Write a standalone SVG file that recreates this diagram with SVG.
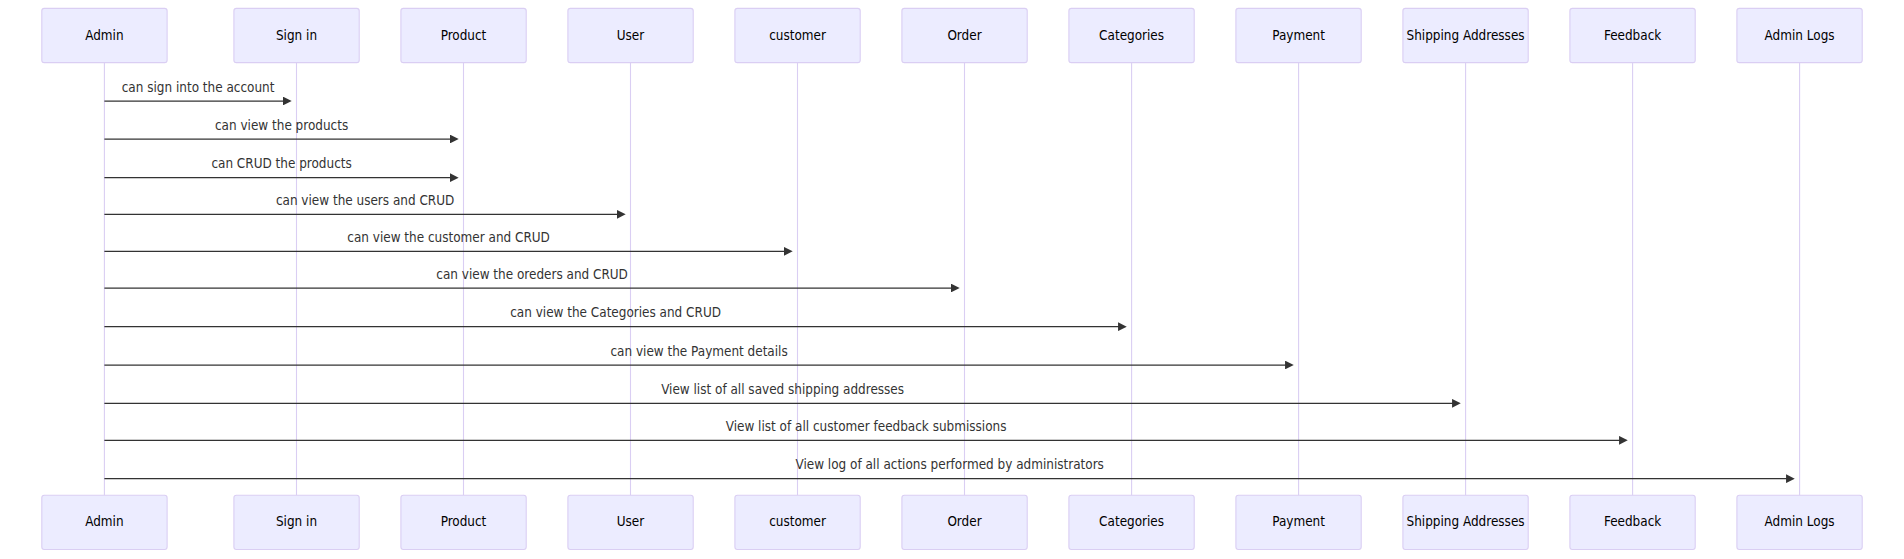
<svg xmlns="http://www.w3.org/2000/svg" width="1904" height="559" viewBox="0 0 1904 559">
<style>
.box{fill:#ECECFF;stroke:#DACEF3;stroke-width:1.1}
.life{stroke:#DACEF3;stroke-width:1.1}
.at{font-family:"DejaVu Sans Condensed","DejaVu Sans",sans-serif;font-stretch:condensed;font-size:13.4px;fill:#000;text-anchor:middle}
.mt{font-family:"DejaVu Sans Condensed","DejaVu Sans",sans-serif;font-stretch:condensed;font-size:13.4px;fill:#333;text-anchor:middle}
.msg{stroke:#333;stroke-width:1.25;fill:none;marker-end:url(#ah)}
</style>
<defs>
<marker id="ah" markerUnits="userSpaceOnUse" viewBox="0 0 10 10" markerWidth="9" markerHeight="8.7" refX="6.7" refY="5" orient="auto">
<path d="M0 0 L10 5 L0 10 z" fill="#333"/>
</marker>
</defs>
<rect width="1904" height="559" fill="#fff"/>
<g id="lifelines">
<line class="life" x1="104.4" y1="62.6" x2="104.4" y2="495.2"/>
<line class="life" x1="296.5" y1="62.6" x2="296.5" y2="495.2"/>
<line class="life" x1="463.5" y1="62.6" x2="463.5" y2="495.2"/>
<line class="life" x1="630.5" y1="62.6" x2="630.5" y2="495.2"/>
<line class="life" x1="797.5" y1="62.6" x2="797.5" y2="495.2"/>
<line class="life" x1="964.5" y1="62.6" x2="964.5" y2="495.2"/>
<line class="life" x1="1131.6" y1="62.6" x2="1131.6" y2="495.2"/>
<line class="life" x1="1298.6" y1="62.6" x2="1298.6" y2="495.2"/>
<line class="life" x1="1465.6" y1="62.6" x2="1465.6" y2="495.2"/>
<line class="life" x1="1632.6" y1="62.6" x2="1632.6" y2="495.2"/>
<line class="life" x1="1799.6" y1="62.6" x2="1799.6" y2="495.2"/>
</g>
<g id="admin"><rect class="box" x="41.8" y="8.35" width="125.3" height="54.3" rx="2.5"/><text class="at" x="104.4" y="39.6">Admin</text><rect class="box" x="41.8" y="495.2" width="125.3" height="54.3" rx="2.5"/><text class="at" x="104.4" y="526.4">Admin</text></g>
<g id="signin"><rect class="box" x="233.9" y="8.35" width="125.3" height="54.3" rx="2.5"/><text class="at" x="296.5" y="39.6">Sign in</text><rect class="box" x="233.9" y="495.2" width="125.3" height="54.3" rx="2.5"/><text class="at" x="296.5" y="526.4">Sign in</text></g>
<g id="product"><rect class="box" x="400.9" y="8.35" width="125.3" height="54.3" rx="2.5"/><text class="at" x="463.5" y="39.6">Product</text><rect class="box" x="400.9" y="495.2" width="125.3" height="54.3" rx="2.5"/><text class="at" x="463.5" y="526.4">Product</text></g>
<g id="user"><rect class="box" x="567.9" y="8.35" width="125.3" height="54.3" rx="2.5"/><text class="at" x="630.5" y="39.6">User</text><rect class="box" x="567.9" y="495.2" width="125.3" height="54.3" rx="2.5"/><text class="at" x="630.5" y="526.4">User</text></g>
<g id="customer"><rect class="box" x="734.9" y="8.35" width="125.3" height="54.3" rx="2.5"/><text class="at" x="797.5" y="39.6">customer</text><rect class="box" x="734.9" y="495.2" width="125.3" height="54.3" rx="2.5"/><text class="at" x="797.5" y="526.4">customer</text></g>
<g id="order"><rect class="box" x="901.9" y="8.35" width="125.3" height="54.3" rx="2.5"/><text class="at" x="964.5" y="39.6">Order</text><rect class="box" x="901.9" y="495.2" width="125.3" height="54.3" rx="2.5"/><text class="at" x="964.5" y="526.4">Order</text></g>
<g id="categories"><rect class="box" x="1068.9" y="8.35" width="125.3" height="54.3" rx="2.5"/><text class="at" x="1131.6" y="39.6">Categories</text><rect class="box" x="1068.9" y="495.2" width="125.3" height="54.3" rx="2.5"/><text class="at" x="1131.6" y="526.4">Categories</text></g>
<g id="payment"><rect class="box" x="1235.9" y="8.35" width="125.3" height="54.3" rx="2.5"/><text class="at" x="1298.6" y="39.6">Payment</text><rect class="box" x="1235.9" y="495.2" width="125.3" height="54.3" rx="2.5"/><text class="at" x="1298.6" y="526.4">Payment</text></g>
<g id="shipping"><rect class="box" x="1402.9" y="8.35" width="125.3" height="54.3" rx="2.5"/><text class="at" x="1465.6" y="39.6">Shipping Addresses</text><rect class="box" x="1402.9" y="495.2" width="125.3" height="54.3" rx="2.5"/><text class="at" x="1465.6" y="526.4">Shipping Addresses</text></g>
<g id="feedback"><rect class="box" x="1569.9" y="8.35" width="125.3" height="54.3" rx="2.5"/><text class="at" x="1632.6" y="39.6">Feedback</text><rect class="box" x="1569.9" y="495.2" width="125.3" height="54.3" rx="2.5"/><text class="at" x="1632.6" y="526.4">Feedback</text></g>
<g id="adminlogs"><rect class="box" x="1736.9" y="8.35" width="125.3" height="54.3" rx="2.5"/><text class="at" x="1799.6" y="39.6">Admin Logs</text><rect class="box" x="1736.9" y="495.2" width="125.3" height="54.3" rx="2.5"/><text class="at" x="1799.6" y="526.4">Admin Logs</text></g>
<g id="connectors">
<line class="msg" x1="104.4" y1="101" x2="288.8" y2="101"/><text class="mt" x="198.1" y="91.5">can sign into the account</text>
<line class="msg" x1="104.4" y1="139" x2="455.8" y2="139"/><text class="mt" x="281.6" y="129.5">can view the products</text>
<line class="msg" x1="104.4" y1="177.7" x2="455.8" y2="177.7"/><text class="mt" x="281.6" y="168.2">can CRUD the products</text>
<line class="msg" x1="104.4" y1="214.3" x2="622.8" y2="214.3"/><text class="mt" x="365.1" y="204.8">can view the users and CRUD</text>
<line class="msg" x1="104.4" y1="251.3" x2="789.8" y2="251.3"/><text class="mt" x="448.6" y="241.8">can view the customer and CRUD</text>
<line class="msg" x1="104.4" y1="288" x2="956.8" y2="288"/><text class="mt" x="532.1" y="278.5">can view the oreders and CRUD</text>
<line class="msg" x1="104.4" y1="326.7" x2="1123.9" y2="326.7"/><text class="mt" x="615.6" y="317.2">can view the Categories and CRUD</text>
<line class="msg" x1="104.4" y1="365" x2="1290.9" y2="365"/><text class="mt" x="699.1" y="355.5">can view the Payment details</text>
<line class="msg" x1="104.4" y1="403.3" x2="1457.9" y2="403.3"/><text class="mt" x="782.6" y="393.8">View list of all saved shipping addresses</text>
<line class="msg" x1="104.4" y1="440.3" x2="1624.9" y2="440.3"/><text class="mt" x="866.1" y="430.8">View list of all customer feedback submissions</text>
<line class="msg" x1="104.4" y1="478.7" x2="1791.9" y2="478.7"/><text class="mt" x="949.7" y="469.2">View log of all actions performed by administrators</text>
</g>
</svg>
